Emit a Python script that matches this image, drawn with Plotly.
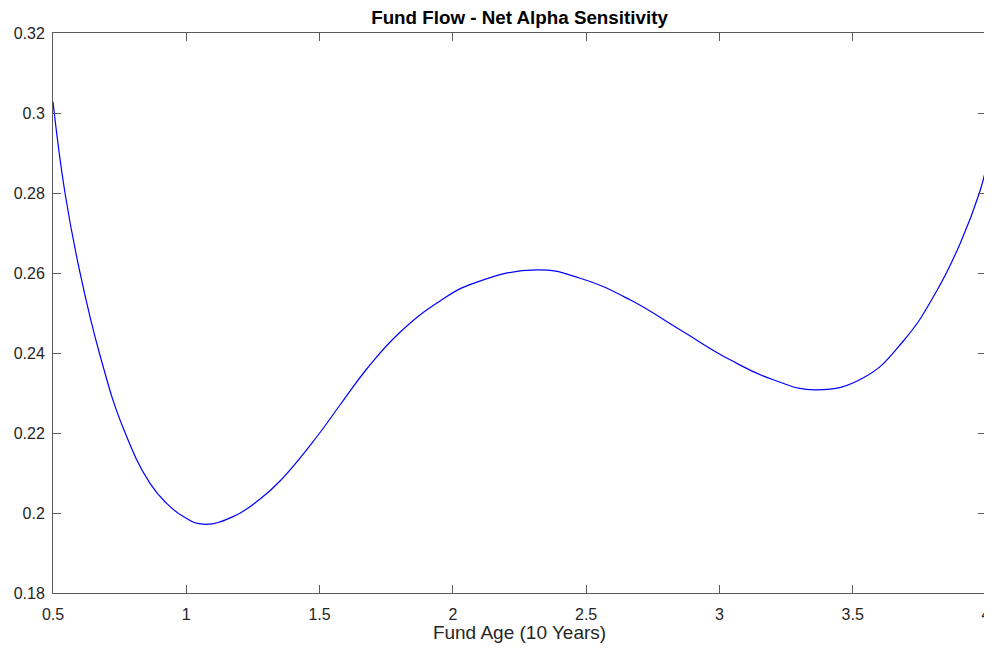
import plotly.graph_objects as go

# Curve values
fund_age = [0.5, 0.545, 0.6, 0.676, 0.766, 0.864, 0.9265, 0.989, 1.064, 1.176,
            1.277, 1.3516, 1.489, 1.5766, 1.6768, 1.8017, 1.952, 2.077, 2.3145,
            2.477, 2.6645, 2.852, 3.04, 3.202, 3.365, 3.54, 3.69, 3.815, 3.907,
            3.975, 4.0]
sensitivity = [0.3028, 0.28, 0.2605, 0.2395, 0.2208, 0.2074, 0.2024, 0.1991, 0.1972, 0.1991,
               0.2035, 0.2080, 0.2190, 0.2270, 0.2360, 0.2452, 0.2530, 0.2574, 0.2608,
               0.2587, 0.2533, 0.2458, 0.2383, 0.2333, 0.2308, 0.2338, 0.2430, 0.2555, 0.2680,
               0.2800, 0.2862]

x_tick_vals = [0.5, 1, 1.5, 2, 2.5, 3, 3.5, 4]
x_tick_text = ["0.5", "1", "1.5", "2", "2.5", "3", "3.5", "4"]
y_tick_vals = [0.18, 0.2, 0.22, 0.24, 0.26, 0.28, 0.3, 0.32]
y_tick_text = ["0.18", "0.2", "0.22", "0.24", "0.26", "0.28", "0.3", "0.32"]

title_text = "Fund Flow - Net Alpha Sensitivity"
x_title = "Fund Age (10 Years)"

FONT = "Liberation Sans, Arial, Helvetica, sans-serif"
AXIS_COLOR = "#5a5a5a"
TEXT_COLOR = "#262626"

# The page body has an 8px margin, so the figure is sized/offset to compensate
FIG_W, FIG_H = 984, 635

fig = go.Figure()
fig.add_trace(go.Scatter(
    x=fund_age, y=sensitivity, mode="lines",
    line=dict(color="#0000ff", width=1.2, shape="spline", smoothing=1.3),
    showlegend=False, hoverinfo="skip",
))

axis_common = dict(
    showgrid=False, zeroline=False, automargin=False,
    showline=True, linecolor=AXIS_COLOR, linewidth=1, mirror="ticks",
    ticks="inside", ticklen=8, tickwidth=1, tickcolor=AXIS_COLOR,
    ticklabeloverflow="allow",
    tickfont=dict(family=FONT, size=16, color=TEXT_COLOR),
)

fig.update_layout(
    width=FIG_W, height=FIG_H,
    margin=dict(l=45, r=6, t=25, b=50, autoexpand=False),
    paper_bgcolor="white", plot_bgcolor="white",
    title=dict(text=f"<b>{title_text}</b>", x=511.5 / FIG_W, xanchor="center",
               y=1 - 9.5 / FIG_H, yanchor="middle",
               font=dict(family=FONT, size=18.8, color="#000000")),
    xaxis=dict(range=[0.5, 4], tickvals=x_tick_vals, ticktext=x_tick_text,
               title=dict(text=x_title, standoff=10,
                          font=dict(family=FONT, size=19, color=TEXT_COLOR)),
               ticklabelstandoff=7, **axis_common),
    yaxis=dict(range=[0.18, 0.32], tickvals=y_tick_vals, ticktext=y_tick_text,
               ticklabelstandoff=4, **axis_common),
)

fig.write_html("out.html")
